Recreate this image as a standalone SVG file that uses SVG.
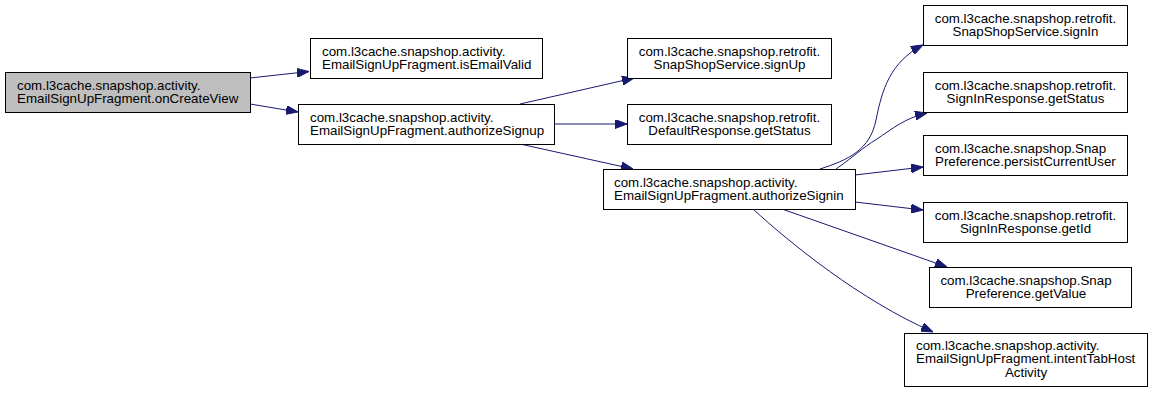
<svg xmlns="http://www.w3.org/2000/svg" width="1152" height="393" viewBox="0 0 1152 393">
  <style>
    .box { fill: #ffffff; stroke: #000000; stroke-width: 1; }
    .root { fill: #bfbfbf; }
    .lbl { font-family: "Liberation Sans", Arial, Helvetica, sans-serif; font-size: 13.33px; fill: #000000; }
    .mid { text-anchor: middle; }
    .edge { fill: none; stroke: #191970; stroke-width: 1; marker-end: url(#arrow); }
  </style>
  <defs>
    <marker id="arrow" viewBox="0 0 12 9" refX="12" refY="4.5" markerWidth="12" markerHeight="9" markerUnits="userSpaceOnUse" orient="auto">
      <path d="M0,0 L12,4.5 L0,9 z" fill="#191970" stroke="#191970" stroke-width="1"/>
    </marker>
  </defs>
  <rect width="1152" height="393" fill="#ffffff"/>

  <!-- call edges -->
  <g id="edges">
    <path class="edge" d="M250,78 L309,71.5"/>
    <path class="edge" d="M250,104 L298,112"/>
    <path class="edge" d="M520,104 L634,78"/>
    <path class="edge" d="M554,124 L627,124"/>
    <path class="edge" d="M520,144 L633,169"/>
    <path class="edge" d="M820,169 C848,160 870,150 876,120 C882,90 890,62 923,45"/>
    <path class="edge" d="M836,169 C852,158 862,148 877,139 C892,129 905,118 927,113"/>
    <path class="edge" d="M855,175 L923,167"/>
    <path class="edge" d="M855,202 L923,210"/>
    <path class="edge" d="M782,209 L947,267"/>
    <path class="edge" d="M753,209 C790,243 860,300 933,332"/>
  </g>

  <g id="onCreateView">
    <rect class="box root" x="5.5" y="72.5" width="245" height="40"/>
    <text class="lbl" x="17" y="89.5">com.l3cache.snapshop.activity.</text>
    <text class="lbl" x="17" y="103">EmailSignUpFragment.onCreateView</text>
  </g>

  <g id="isEmailValid">
    <rect class="box" x="310.5" y="38.5" width="232" height="40"/>
    <text class="lbl" x="322" y="55.5">com.l3cache.snapshop.activity.</text>
    <text class="lbl" x="322" y="69">EmailSignUpFragment.isEmailValid</text>
  </g>

  <g id="authorizeSignup">
    <rect class="box" x="298.5" y="104.5" width="256" height="40"/>
    <text class="lbl" x="310" y="121.5">com.l3cache.snapshop.activity.</text>
    <text class="lbl" x="310" y="135">EmailSignUpFragment.authorizeSignup</text>
  </g>

  <g id="signUp">
    <rect class="box" x="627.5" y="38.5" width="204" height="40"/>
    <text class="lbl mid" x="729.5" y="55.5">com.l3cache.snapshop.retrofit.</text>
    <text class="lbl mid" x="729.5" y="69">SnapShopService.signUp</text>
  </g>

  <g id="defaultGetStatus">
    <rect class="box" x="627.5" y="104.5" width="204" height="40"/>
    <text class="lbl mid" x="729.5" y="121.5">com.l3cache.snapshop.retrofit.</text>
    <text class="lbl mid" x="729.5" y="135">DefaultResponse.getStatus</text>
  </g>

  <g id="authorizeSignin">
    <rect class="box" x="603.5" y="169.5" width="252" height="40"/>
    <text class="lbl" x="614" y="186.5">com.l3cache.snapshop.activity.</text>
    <text class="lbl" x="614" y="200">EmailSignUpFragment.authorizeSignin</text>
  </g>

  <g id="signIn">
    <rect class="box" x="923.5" y="5.5" width="204" height="40"/>
    <text class="lbl mid" x="1025.5" y="22.5">com.l3cache.snapshop.retrofit.</text>
    <text class="lbl mid" x="1025.5" y="36">SnapShopService.signIn</text>
  </g>

  <g id="signInGetStatus">
    <rect class="box" x="923.5" y="72.5" width="204" height="40"/>
    <text class="lbl mid" x="1025.5" y="89.5">com.l3cache.snapshop.retrofit.</text>
    <text class="lbl mid" x="1025.5" y="103">SignInResponse.getStatus</text>
  </g>

  <g id="persistCurrentUser">
    <rect class="box" x="923.5" y="135.5" width="204" height="40"/>
    <text class="lbl" x="935" y="152.5">com.l3cache.snapshop.Snap</text>
    <text class="lbl" x="935" y="166">Preference.persistCurrentUser</text>
  </g>

  <g id="getId">
    <rect class="box" x="923.5" y="202.5" width="204" height="40"/>
    <text class="lbl mid" x="1025.5" y="219.5">com.l3cache.snapshop.retrofit.</text>
    <text class="lbl mid" x="1025.5" y="233">SignInResponse.getId</text>
  </g>

  <g id="getValue">
    <rect class="box" x="929.5" y="267.5" width="202" height="40"/>
    <text class="lbl mid" x="1026" y="284.5">com.l3cache.snapshop.Snap</text>
    <text class="lbl mid" x="1026" y="298">Preference.getValue</text>
  </g>

  <g id="intentTabHostActivity">
    <rect class="box" x="904.5" y="333.5" width="243" height="53"/>
    <text class="lbl" x="916" y="349.5">com.l3cache.snapshop.activity.</text>
    <text class="lbl" x="916" y="363">EmailSignUpFragment.intentTabHost</text>
    <text class="lbl mid" x="1026" y="376.5">Activity</text>
  </g>
</svg>
